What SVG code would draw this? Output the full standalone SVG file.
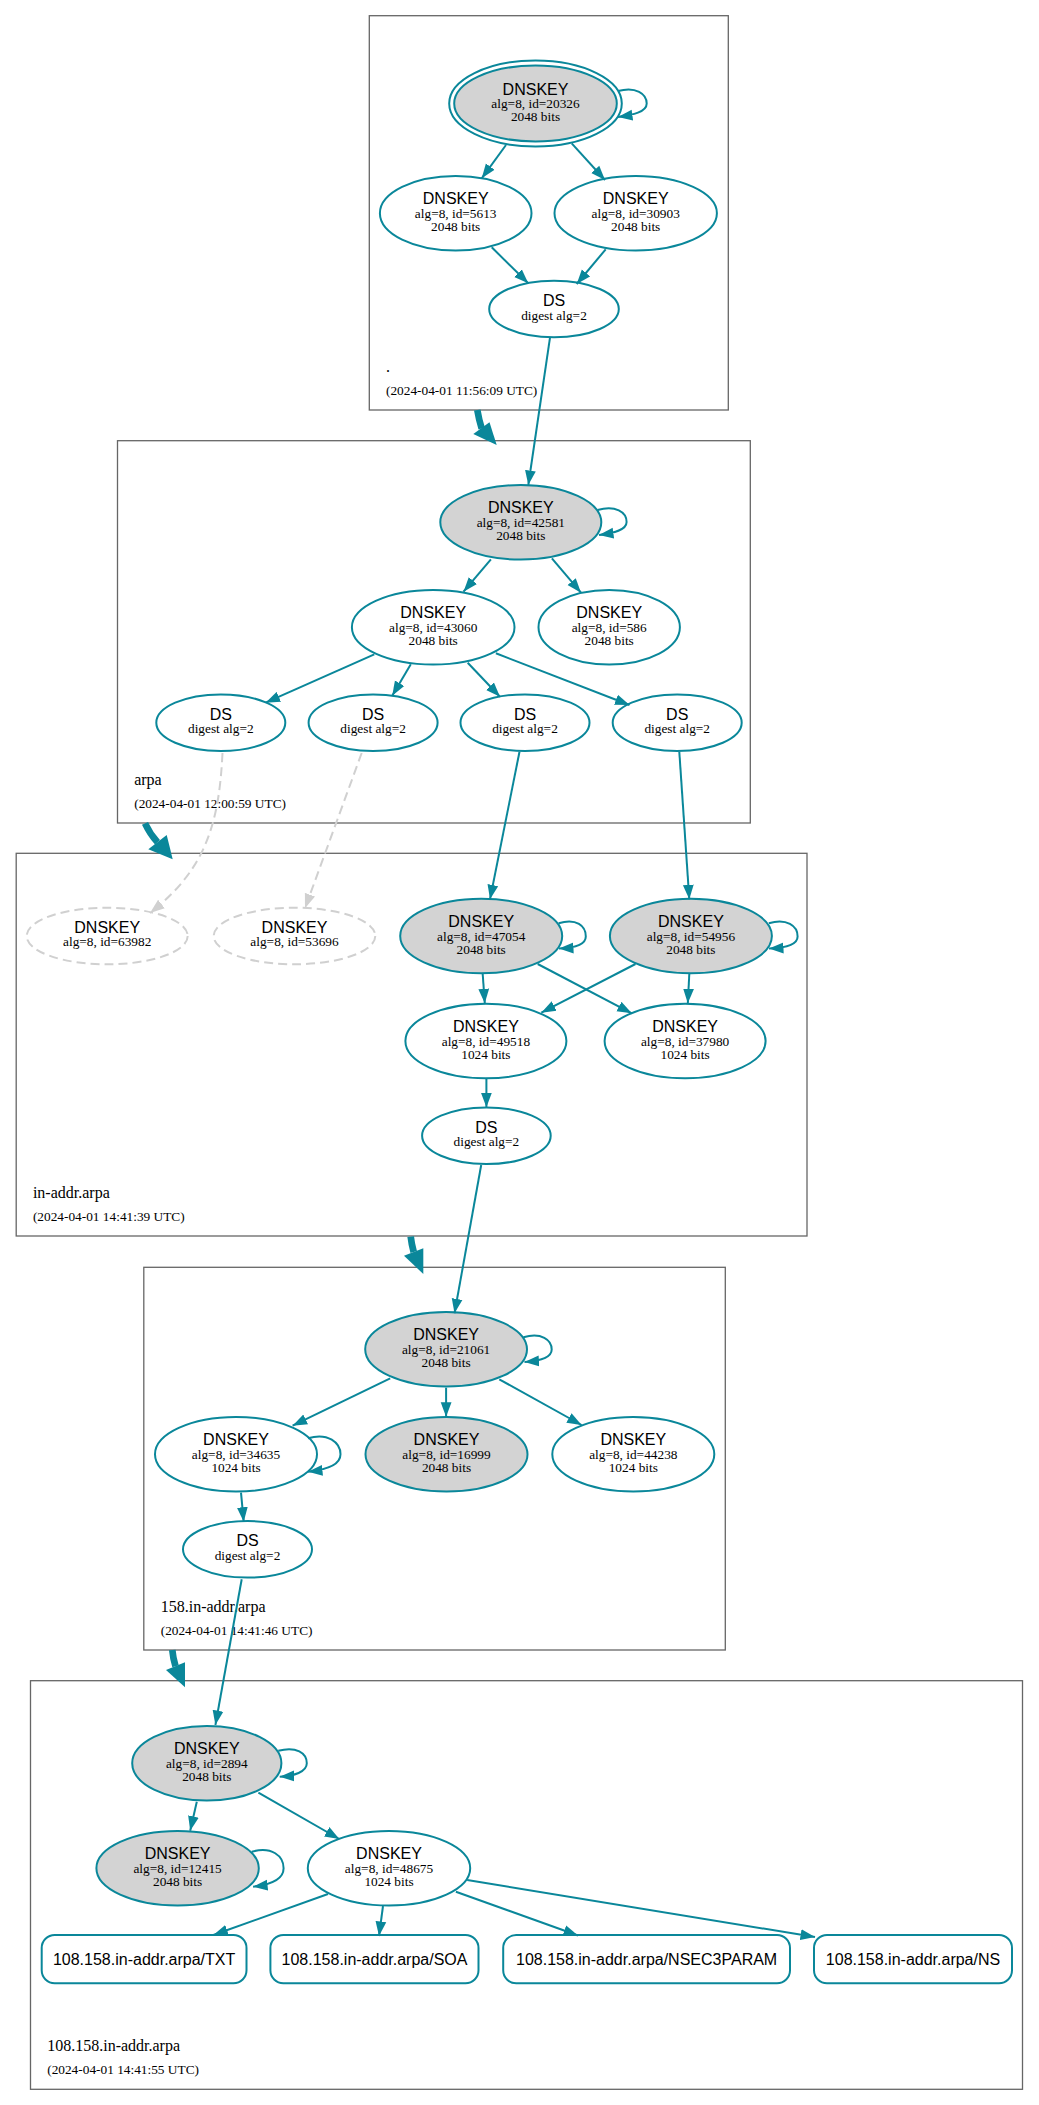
<svg xmlns="http://www.w3.org/2000/svg" width="1039" height="2105" viewBox="0 0 1039 2105">
<defs>
<style>
.cl{fill:none;stroke:#666;stroke-width:1.3}
.n{fill:#fff;stroke:#0a879a;stroke-width:2}
.k{fill:#d3d3d3;stroke:#0a879a;stroke-width:2}
.o{fill:none;stroke:#0a879a;stroke-width:2}
.dn{fill:#fff;stroke:#d0d0d0;stroke-width:2;stroke-dasharray:9,5}
.t1{font-family:"Liberation Sans",Arial,sans-serif;font-size:16px;text-anchor:middle;fill:#000}
.t2{font-family:"Liberation Serif","Times New Roman",serif;font-size:13.33px;text-anchor:middle;fill:#000}
.zn{font-family:"Liberation Serif","Times New Roman",serif;font-size:16px;fill:#000}
.zd{font-family:"Liberation Serif","Times New Roman",serif;font-size:13.33px;fill:#000}
.e{fill:none;stroke:#0a879a;stroke-width:2;marker-end:url(#a)}
.eg{fill:none;stroke:#d0d0d0;stroke-width:2;stroke-dasharray:9,5;marker-end:url(#ag)}
.th{fill:none;stroke:#0a879a;stroke-width:6.7}
.tha{fill:#0a879a;stroke:none}
</style>
<marker id="a" viewBox="0 0 15 12" refX="14.5" refY="6" markerWidth="15" markerHeight="12" markerUnits="userSpaceOnUse" orient="auto"><path d="M0,0.6 L14.5,6 L0,11.4z" fill="#0a879a"/></marker>
<marker id="ag" viewBox="0 0 15 12" refX="14.5" refY="6" markerWidth="15" markerHeight="12" markerUnits="userSpaceOnUse" orient="auto"><path d="M0,0.6 L14.5,6 L0,11.4z" fill="#d0d0d0"/></marker>
</defs>
<rect width="1039" height="2105" fill="#fff"/>

<g id="zones">
<g id="zone-root"><rect class="cl" x="369.3" y="15.7" width="359" height="394.3"/><text class="zn" x="386" y="371.5">.</text><text class="zd" x="386" y="395">(2024-04-01 11:56:09 UTC)</text></g>
<g id="zone-arpa"><rect class="cl" x="117.5" y="440.7" width="632.8" height="382.3"/><text class="zn" x="134.2" y="784.5">arpa</text><text class="zd" x="134.2" y="808">(2024-04-01 12:00:59 UTC)</text></g>
<g id="zone-in-addr"><rect class="cl" x="16.2" y="853.3" width="790.8" height="382.7"/><text class="zn" x="32.9" y="1197.5">in-addr.arpa</text><text class="zd" x="32.9" y="1221">(2024-04-01 14:41:39 UTC)</text></g>
<g id="zone-158"><rect class="cl" x="143.8" y="1267.3" width="581.5" height="382.7"/><text class="zn" x="160.7" y="1611.5">158.in-addr.arpa</text><text class="zd" x="160.7" y="1635">(2024-04-01 14:41:46 UTC)</text></g>
<g id="zone-108"><rect class="cl" x="30.5" y="1680.7" width="992" height="408.6"/><text class="zn" x="47.2" y="2050.8">108.158.in-addr.arpa</text><text class="zd" x="47.2" y="2074.3">(2024-04-01 14:41:55 UTC)</text></g>
</g>

<g id="nodes">
<g id="k20326"><ellipse class="o" cx="535.5" cy="103.5" rx="86.3" ry="43"/><ellipse class="k" cx="535.5" cy="103.5" rx="81.3" ry="38"/><text class="t1" x="535.5" y="94.5">DNSKEY</text><text class="t2" x="535.5" y="108">alg=8, id=20326</text><text class="t2" x="535.5" y="121">2048 bits</text></g>
<g id="k5613"><ellipse class="n" cx="455.7" cy="213.3" rx="75.8" ry="37.3"/><text class="t1" x="455.7" y="204.3">DNSKEY</text><text class="t2" x="455.7" y="217.8">alg=8, id=5613</text><text class="t2" x="455.7" y="230.8">2048 bits</text></g>
<g id="k30903"><ellipse class="n" cx="635.7" cy="213.3" rx="81.2" ry="37.3"/><text class="t1" x="635.7" y="204.3">DNSKEY</text><text class="t2" x="635.7" y="217.8">alg=8, id=30903</text><text class="t2" x="635.7" y="230.8">2048 bits</text></g>
<g id="ds-root"><ellipse class="n" cx="554" cy="309" rx="64.8" ry="28.3"/><text class="t1" x="554" y="306">DS</text><text class="t2" x="554" y="319.5">digest alg=2</text></g>

<g id="k42581"><ellipse class="k" cx="520.8" cy="522.3" rx="80.5" ry="37.3"/><text class="t1" x="520.8" y="513.3">DNSKEY</text><text class="t2" x="520.8" y="526.8">alg=8, id=42581</text><text class="t2" x="520.8" y="539.8">2048 bits</text></g>
<g id="k43060"><ellipse class="n" cx="433.2" cy="627.3" rx="81.3" ry="37.3"/><text class="t1" x="433.2" y="618.3">DNSKEY</text><text class="t2" x="433.2" y="631.8">alg=8, id=43060</text><text class="t2" x="433.2" y="644.8">2048 bits</text></g>
<g id="k586"><ellipse class="n" cx="609.2" cy="627.3" rx="70.7" ry="37.3"/><text class="t1" x="609.2" y="618.3">DNSKEY</text><text class="t2" x="609.2" y="631.8">alg=8, id=586</text><text class="t2" x="609.2" y="644.8">2048 bits</text></g>
<g id="ds-arpa-1"><ellipse class="n" cx="220.8" cy="722.7" rx="64.5" ry="28.3"/><text class="t1" x="220.8" y="719.7">DS</text><text class="t2" x="220.8" y="733.2">digest alg=2</text></g>
<g id="ds-arpa-2"><ellipse class="n" cx="373.1" cy="722.7" rx="64.5" ry="28.3"/><text class="t1" x="373.1" y="719.7">DS</text><text class="t2" x="373.1" y="733.2">digest alg=2</text></g>
<g id="ds-arpa-3"><ellipse class="n" cx="525" cy="722.7" rx="64.5" ry="28.3"/><text class="t1" x="525" y="719.7">DS</text><text class="t2" x="525" y="733.2">digest alg=2</text></g>
<g id="ds-arpa-4"><ellipse class="n" cx="677.2" cy="722.7" rx="64.5" ry="28.3"/><text class="t1" x="677.2" y="719.7">DS</text><text class="t2" x="677.2" y="733.2">digest alg=2</text></g>

<g id="k63982"><ellipse class="dn" cx="107.2" cy="936" rx="80.5" ry="28.3"/><text class="t1" x="107.2" y="932.7">DNSKEY</text><text class="t2" x="107.2" y="946">alg=8, id=63982</text></g>
<g id="k53696"><ellipse class="dn" cx="294.5" cy="936" rx="80.8" ry="28.3"/><text class="t1" x="294.5" y="932.7">DNSKEY</text><text class="t2" x="294.5" y="946">alg=8, id=53696</text></g>
<g id="k47054"><ellipse class="k" cx="481.2" cy="936" rx="81" ry="37.3"/><text class="t1" x="481.2" y="927">DNSKEY</text><text class="t2" x="481.2" y="940.5">alg=8, id=47054</text><text class="t2" x="481.2" y="953.5">2048 bits</text></g>
<g id="k54956"><ellipse class="k" cx="690.9" cy="936" rx="81" ry="37.3"/><text class="t1" x="690.9" y="927">DNSKEY</text><text class="t2" x="690.9" y="940.5">alg=8, id=54956</text><text class="t2" x="690.9" y="953.5">2048 bits</text></g>
<g id="k49518"><ellipse class="n" cx="485.9" cy="1041" rx="80.5" ry="37.3"/><text class="t1" x="485.9" y="1032">DNSKEY</text><text class="t2" x="485.9" y="1045.5">alg=8, id=49518</text><text class="t2" x="485.9" y="1058.5">1024 bits</text></g>
<g id="k37980"><ellipse class="n" cx="685.1" cy="1041" rx="80.5" ry="37.3"/><text class="t1" x="685.1" y="1032">DNSKEY</text><text class="t2" x="685.1" y="1045.5">alg=8, id=37980</text><text class="t2" x="685.1" y="1058.5">1024 bits</text></g>
<g id="ds-in-addr"><ellipse class="n" cx="486.4" cy="1135.7" rx="64.3" ry="28.3"/><text class="t1" x="486.4" y="1132.7">DS</text><text class="t2" x="486.4" y="1146.2">digest alg=2</text></g>

<g id="k21061"><ellipse class="k" cx="446.1" cy="1349.3" rx="80.9" ry="37.3"/><text class="t1" x="446.1" y="1340.3">DNSKEY</text><text class="t2" x="446.1" y="1353.8">alg=8, id=21061</text><text class="t2" x="446.1" y="1366.8">2048 bits</text></g>
<g id="k34635"><ellipse class="n" cx="236" cy="1454.3" rx="81" ry="37.3"/><text class="t1" x="236" y="1445.3">DNSKEY</text><text class="t2" x="236" y="1458.8">alg=8, id=34635</text><text class="t2" x="236" y="1471.8">1024 bits</text></g>
<g id="k16999"><ellipse class="k" cx="446.5" cy="1454.3" rx="81" ry="37.3"/><text class="t1" x="446.5" y="1445.3">DNSKEY</text><text class="t2" x="446.5" y="1458.8">alg=8, id=16999</text><text class="t2" x="446.5" y="1471.8">2048 bits</text></g>
<g id="k44238"><ellipse class="n" cx="633.3" cy="1454.3" rx="81" ry="37.3"/><text class="t1" x="633.3" y="1445.3">DNSKEY</text><text class="t2" x="633.3" y="1458.8">alg=8, id=44238</text><text class="t2" x="633.3" y="1471.8">1024 bits</text></g>
<g id="ds-158"><ellipse class="n" cx="247.5" cy="1549.3" rx="64.5" ry="28.3"/><text class="t1" x="247.5" y="1546.3">DS</text><text class="t2" x="247.5" y="1559.8">digest alg=2</text></g>

<g id="k2894"><ellipse class="k" cx="206.8" cy="1763.3" rx="74.6" ry="37.3"/><text class="t1" x="206.8" y="1754.3">DNSKEY</text><text class="t2" x="206.8" y="1767.8">alg=8, id=2894</text><text class="t2" x="206.8" y="1780.8">2048 bits</text></g>
<g id="k12415"><ellipse class="k" cx="177.6" cy="1868.3" rx="81.2" ry="37.3"/><text class="t1" x="177.6" y="1859.3">DNSKEY</text><text class="t2" x="177.6" y="1872.8">alg=8, id=12415</text><text class="t2" x="177.6" y="1885.8">2048 bits</text></g>
<g id="k48675"><ellipse class="n" cx="389" cy="1868.3" rx="81.2" ry="37.3"/><text class="t1" x="389" y="1859.3">DNSKEY</text><text class="t2" x="389" y="1872.8">alg=8, id=48675</text><text class="t2" x="389" y="1885.8">1024 bits</text></g>
<g id="rr-txt"><rect class="n" x="41.7" y="1935" width="204.8" height="48.3" rx="13" ry="13"/><text class="t1" x="144.1" y="1964.5">108.158.in-addr.arpa/TXT</text></g>
<g id="rr-soa"><rect class="n" x="270.4" y="1935" width="208.1" height="48.3" rx="13" ry="13"/><text class="t1" x="374.5" y="1964.5">108.158.in-addr.arpa/SOA</text></g>
<g id="rr-nsec3param"><rect class="n" x="503.2" y="1935" width="286.8" height="48.3" rx="13" ry="13"/><text class="t1" x="646.6" y="1964.5">108.158.in-addr.arpa/NSEC3PARAM</text></g>
<g id="rr-ns"><rect class="n" x="814" y="1935" width="198" height="48.3" rx="13" ry="13"/><text class="t1" x="913" y="1964.5">108.158.in-addr.arpa/NS</text></g>
</g>

<g id="connectors">
<path class="e" d="M618,91 C636,86 646.7,94 646.7,103.5 C646.7,112 633,115 618,117"/>
<path class="e" d="M506,145 L481.7,178.3"/>
<path class="e" d="M571.7,143.3 L605,180"/>
<path class="e" d="M491.7,247.3 L528.3,283.3"/>
<path class="e" d="M605.7,249.3 L576.7,284"/>
<path class="e" d="M550,337.7 L528.3,485"/>

<path class="e" d="M597.5,510 C615.5,505 626.6,512 626.6,522 C626.6,530 614,533 599,535"/>
<path class="e" d="M490.9,559.3 L463.5,591.7"/>
<path class="e" d="M551.9,558.3 L581,592.7"/>
<path class="e" d="M374.3,654.3 L265.6,702.7"/>
<path class="e" d="M410.8,664.3 L392.2,695.7"/>
<path class="e" d="M467.7,662.7 L500,696.7"/>
<path class="e" d="M495.9,653.3 L629.5,705"/>
<path class="e" d="M519.5,751.7 L490,899.3"/>
<path class="e" d="M679.3,751.7 L689.3,899.3"/>
<path class="eg" d="M222.5,753 C219,825 205,870 150,913"/>
<path class="eg" d="M361.7,753 L305,908.3"/>

<path class="e" d="M558.6,923.3 C576.6,918 585.8,926 585.8,936.5 C585.8,945 573,948 559,948.5"/>
<path class="e" d="M768.8,923.3 C786.8,918 797.6,926 797.6,936.5 C797.6,945 784,948 769,948.5"/>
<path class="e" d="M482.7,974 L484.8,1003.3"/>
<path class="e" d="M537.7,964 L631.8,1013.3"/>
<path class="e" d="M635.5,964 L541.3,1012.7"/>
<path class="e" d="M689.3,974 L687.8,1003.3"/>
<path class="e" d="M486.4,1079 L486.4,1107.3"/>
<path class="e" d="M481.2,1165 L454.5,1313.3"/>

<path class="e" d="M523.4,1337.3 C541.4,1332 551.7,1340 551.7,1349.5 C551.7,1358 539,1361 524.5,1362"/>
<path class="e" d="M390.2,1378.3 L292.6,1425.7"/>
<path class="e" d="M446.1,1387.7 L446.1,1416.7"/>
<path class="e" d="M499.3,1379.3 L581.6,1425"/>
<path class="e" d="M308,1438.3 C328,1432 340.5,1443 340.5,1454.3 C340.5,1465 325,1470 308,1471.7"/>
<path class="e" d="M241,1492.7 L243.7,1521.7"/>
<path class="e" d="M241.7,1579.3 L215.4,1725"/>

<path class="e" d="M278.3,1750.7 C296.3,1746 306.8,1753 306.8,1763.3 C306.8,1772 294,1776 279.7,1776.7"/>
<path class="e" d="M196.8,1801.7 L190.2,1830.7"/>
<path class="e" d="M258.4,1792.7 L339.3,1839"/>
<path class="e" d="M251.8,1851.7 C271.8,1846 283.6,1856 283.6,1868.3 C283.6,1880 268,1885 253.1,1886.7"/>
<path class="e" d="M328,1894 L213.4,1935"/>
<path class="e" d="M383,1906 L379,1936"/>
<path class="e" d="M455.9,1891.7 L578,1935.5"/>
<path class="e" d="M467.2,1880 L815,1937"/>

<path class="th" d="M477.3,410 Q479,420 481.7,428.5"/>
<polygon class="tha" points="473.3,434 489.5,422.3 496.7,445"/>
<path class="th" d="M145,823.3 Q150,834 157.5,842.2"/>
<polygon class="tha" points="148.3,849.3 166.7,835 172.7,859.3"/>
<path class="th" d="M410.7,1236.7 Q411.5,1244 413.7,1252"/>
<polygon class="tha" points="404,1255.7 423.3,1248.3 423.3,1274"/>
<path class="th" d="M172.3,1650 Q173,1658 175.5,1666.2"/>
<polygon class="tha" points="166,1670 185,1662.3 185,1687.3"/>
</g>
</svg>
